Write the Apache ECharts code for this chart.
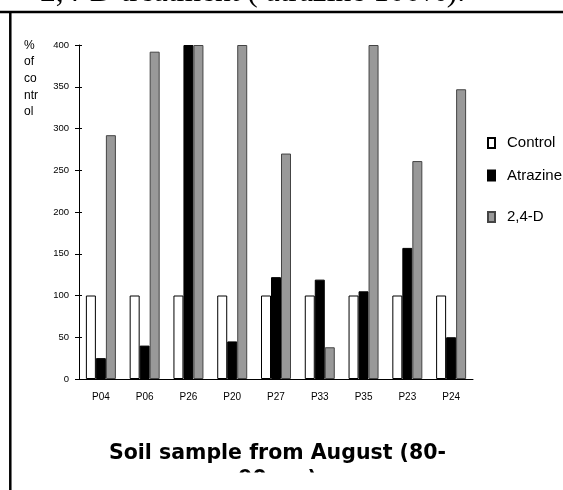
<!DOCTYPE html>
<html>
<head>
<meta charset="utf-8">
<script src="https://cdn.jsdelivr.net/npm/echarts@6/dist/echarts.min.js"></script>
<style>
  html, body { margin: 0; padding: 0; background: #fff; }
  #main { width: 563px; height: 490px; }
</style>
</head>
<body>
<div id="main"></div>
<script>
var categories = ['P04', 'P06', 'P26', 'P20', 'P27', 'P33', 'P35', 'P23', 'P24'];
var controlVals = [100, 100, 100, 100, 100, 100, 100, 100, 100];
var atrazineVals = [25, 40, 400, 45, 122, 119, 105, 157, 50];
var d24Vals = [292, 392, 400, 400, 270, 38, 400, 261, 347];
var seriesNames = ['Control', 'Atrazine', '2,4-D'];
var yMin = 0, yMax = 400, yStep = 50;

var chartDom = document.getElementById('main');
var myChart = echarts.init(chartDom, null, { renderer: 'canvas' });
var option;

var axisFont = 'Liberation Sans, Arial, sans-serif';

// une légende par entrée : l'écart n'est pas régulier dans l'original
var legendTops = [135.5, 168, 209.5];
var legends = [];
for (var i = 0; i < seriesNames.length; i++) {
    legends.push({
        orient: 'vertical',
        left: 487,
        top: legendTops[i],
        padding: 0,
        itemWidth: 7,
        itemHeight: 10,
        icon: 'rect',
        data: [seriesNames[i]],
        textStyle: {
            fontFamily: axisFont,
            fontSize: 15,
            color: '#000',
            padding: [0, 0, 0, 7]
        }
    });
}

option = {
    animation: false,
    backgroundColor: '#fff',
    grid: {
        left: 79,
        right: 90,
        top: 45,
        bottom: 111,
        outerBoundsMode: 'none'
    },
    legend: legends,
    xAxis: [
        {
            type: 'category',
            data: categories,
            axisLine: { lineStyle: { color: '#000', width: 1 } },
            axisTick: { length: 4, lineStyle: { color: '#000' } },
            axisLabel: { fontFamily: axisFont, fontSize: 10, color: '#000', margin: 13 }
        },
        {
            type: 'category',
            data: categories,
            position: 'bottom',
            axisLine: { show: false },
            axisTick: { inside: true, length: 4, lineStyle: { color: '#000' } },
            axisLabel: { show: false }
        }
    ],
    yAxis: [
        {
            type: 'value',
            min: yMin,
            max: yMax,
            interval: yStep,
            splitLine: { show: false },
            axisLine: { show: true, lineStyle: { color: '#000', width: 1 } },
            axisTick: { show: true, length: 4, lineStyle: { color: '#000' } },
            axisLabel: { fontFamily: axisFont, fontSize: 9.5, color: '#000', margin: 10 }
        },
        {
            type: 'value',
            min: yMin,
            max: yMax,
            interval: yStep,
            position: 'left',
            splitLine: { show: false },
            axisLine: { show: false },
            axisTick: { show: true, inside: true, length: 3, lineStyle: { color: '#000' } },
            axisLabel: { show: false }
        }
    ],
    series: [
        {
            name: seriesNames[0],
            type: 'bar',
            data: controlVals,
            barWidth: 10,
            barGap: '0%',
            itemStyle: { color: '#fff', borderColor: '#000', borderWidth: 1 }
        },
        {
            name: seriesNames[1],
            type: 'bar',
            data: atrazineVals,
            barWidth: 10,
            barGap: '0%',
            itemStyle: { color: '#000', borderColor: '#000', borderWidth: 1 }
        },
        {
            name: seriesNames[2],
            type: 'bar',
            data: d24Vals,
            barWidth: 10,
            barGap: '0%',
            itemStyle: { color: '#999', borderColor: '#444', borderWidth: 1 }
        }
    ],
    graphic: [
        {
            // titre du haut, coupé par le bord
            type: 'text',
            left: 40,
            top: -23,
            z: 10,
            style: {
                text: '2,4-D treatment ( atrazine 100%).',
                font: '31.5px "Liberation Serif", "Times New Roman", serif',
                fill: '#000'
            }
        },
        {
            type: 'text',
            x: 24,
            y: 37,
            z: 10,
            style: {
                text: '%\nof\nco\nntr\nol',
                font: '12px "Liberation Sans", Arial, sans-serif',
                lineHeight: 16.7,
                fill: '#000'
            }
        },
        {
            type: 'text',
            x: 277.5,
            y: 441,
            z: 10,
            style: {
                text: 'Soil sample from August (80-\n90 cm)',
                font: 'bold 20.5px "DejaVu Sans", sans-serif',
                lineHeight: 26,
                align: 'center',
                verticalAlign: 'top',
                fill: '#000'
            }
        },
        {
            // masque le bas de la 2e ligne
            type: 'rect',
            z: 20,
            shape: { x: 12, y: 472.5, width: 551, height: 20 },
            style: { fill: '#fff' }
        },
        {
            type: 'line',
            z: 30,
            shape: { x1: 0, y1: 12, x2: 563, y2: 12 },
            style: { stroke: '#000', lineWidth: 2.5 }
        },
        {
            type: 'line',
            z: 30,
            shape: { x1: 10.3, y1: 11, x2: 10.3, y2: 490 },
            style: { stroke: '#000', lineWidth: 2.5 }
        }
    ]
};

option && myChart.setOption(option);
</script>
</body>
</html>
